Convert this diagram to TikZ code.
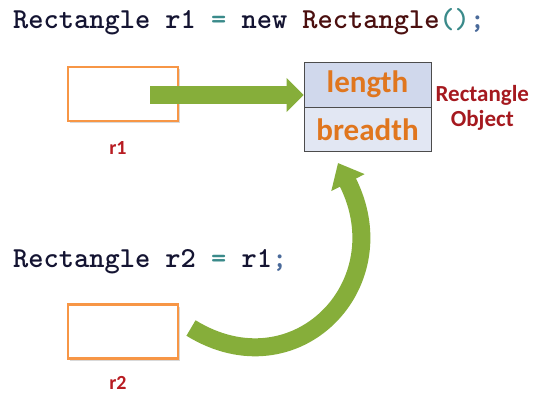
\documentclass[tikz,border=0pt]{standalone}
\usepackage{fontspec}
\usepackage{tikz}
\usetikzlibrary{positioning,shadows,arrows.meta}
\newfontfamily\labelfont{Carlito}
\definecolor{codenavy}{HTML}{141432}
\definecolor{codeteal}{HTML}{3A8A8A}
\definecolor{codebrown}{HTML}{4B0F0F}
\definecolor{codesemi}{HTML}{4A6A9A}
\definecolor{boxorange}{HTML}{F79646}
\definecolor{fieldorange}{HTML}{E0761E}
\definecolor{labelred}{HTML}{B81C22}
\definecolor{objtop}{HTML}{D0D8EC}
\definecolor{objbottom}{HTML}{E2E7F3}
\definecolor{flowgreen}{HTML}{86AE3A}

\begin{document}
\begin{tikzpicture}[x=1pt, y=-1pt,
                      code/.style = {anchor=base west, inner sep=0pt,
                        font=\ttfamily\bfseries\fontsize{29}{34}\selectfont,
                        text=codenavy},
                      refbox/.style = {shape=rectangle, draw=boxorange,
                        line width=2.2pt, fill=white,
                        minimum width=110pt, minimum height=54pt,
                        drop shadow={opacity=0.3, shadow xshift=2pt,
                          shadow yshift=-2pt}},
                      reflabel/.style = {inner sep=0pt, text=labelred,
                        font=\labelfont\bfseries\fontsize{20}{24}\selectfont},
                      objpart/.style = {shape=rectangle, draw=black!70,
                        line width=0.8pt, minimum width=127pt,
                        text=fieldorange, inner sep=0pt,
                        font=\labelfont\bfseries\fontsize{31}{36}\selectfont},
                      flow/.style = {draw=flowgreen, line width=18pt}]
  \useasboundingbox (0,0) rectangle (549,404);

  % code lines
  \node[code] (line1) at (13,29) {Rectangle r1 \textcolor{codeteal}{=} new
    \textcolor{codebrown}{Rectangle}\textcolor{codeteal}{()}\textcolor{codesemi}{;}};
  \node[code] (line2) at (13,267) {Rectangle r2 \textcolor{codeteal}{=}
    r1\textcolor{codesemi}{;}};

  % reference variables
  \node[refbox] (r1) at (123,94) {};
  \node[reflabel] (r1lbl) at (118,148) {r1};
  \node[refbox] (r2) at (123,331.5) {};
  \node[reflabel] (r2lbl) at (118,383) {r2};

  % the object
  \node[objpart, fill=objtop, minimum height=45pt] (len) at (367.5,84.5) {length};
  \node[objpart, fill=objbottom, minimum height=44pt, below=0pt of len] (brd) {breadth};
  \node[reflabel, align=center, text=labelred!90!black,
        font=\labelfont\bfseries\fontsize{23}{25}\selectfont,
        right=4pt of len.south east] (objlbl) {Rectangle\\Object};

  % arrows
  \coordinate (r1start) at (150,95);
  \coordinate (r1end) at (r1start -| len.west);
  \draw[flow, line width=17pt, -{Triangle[length=17pt,width=33pt]}] (r1start) -- (r1end);
  \coordinate (r2start) at (191,328);
  \coordinate (r2end) at (338,163);
  \draw[flow, -{Triangle[length=22pt,width=36pt]}] (r2start)
    .. controls (295,392) and (400,285) .. (r2end);
\end{tikzpicture}
\end{document}
